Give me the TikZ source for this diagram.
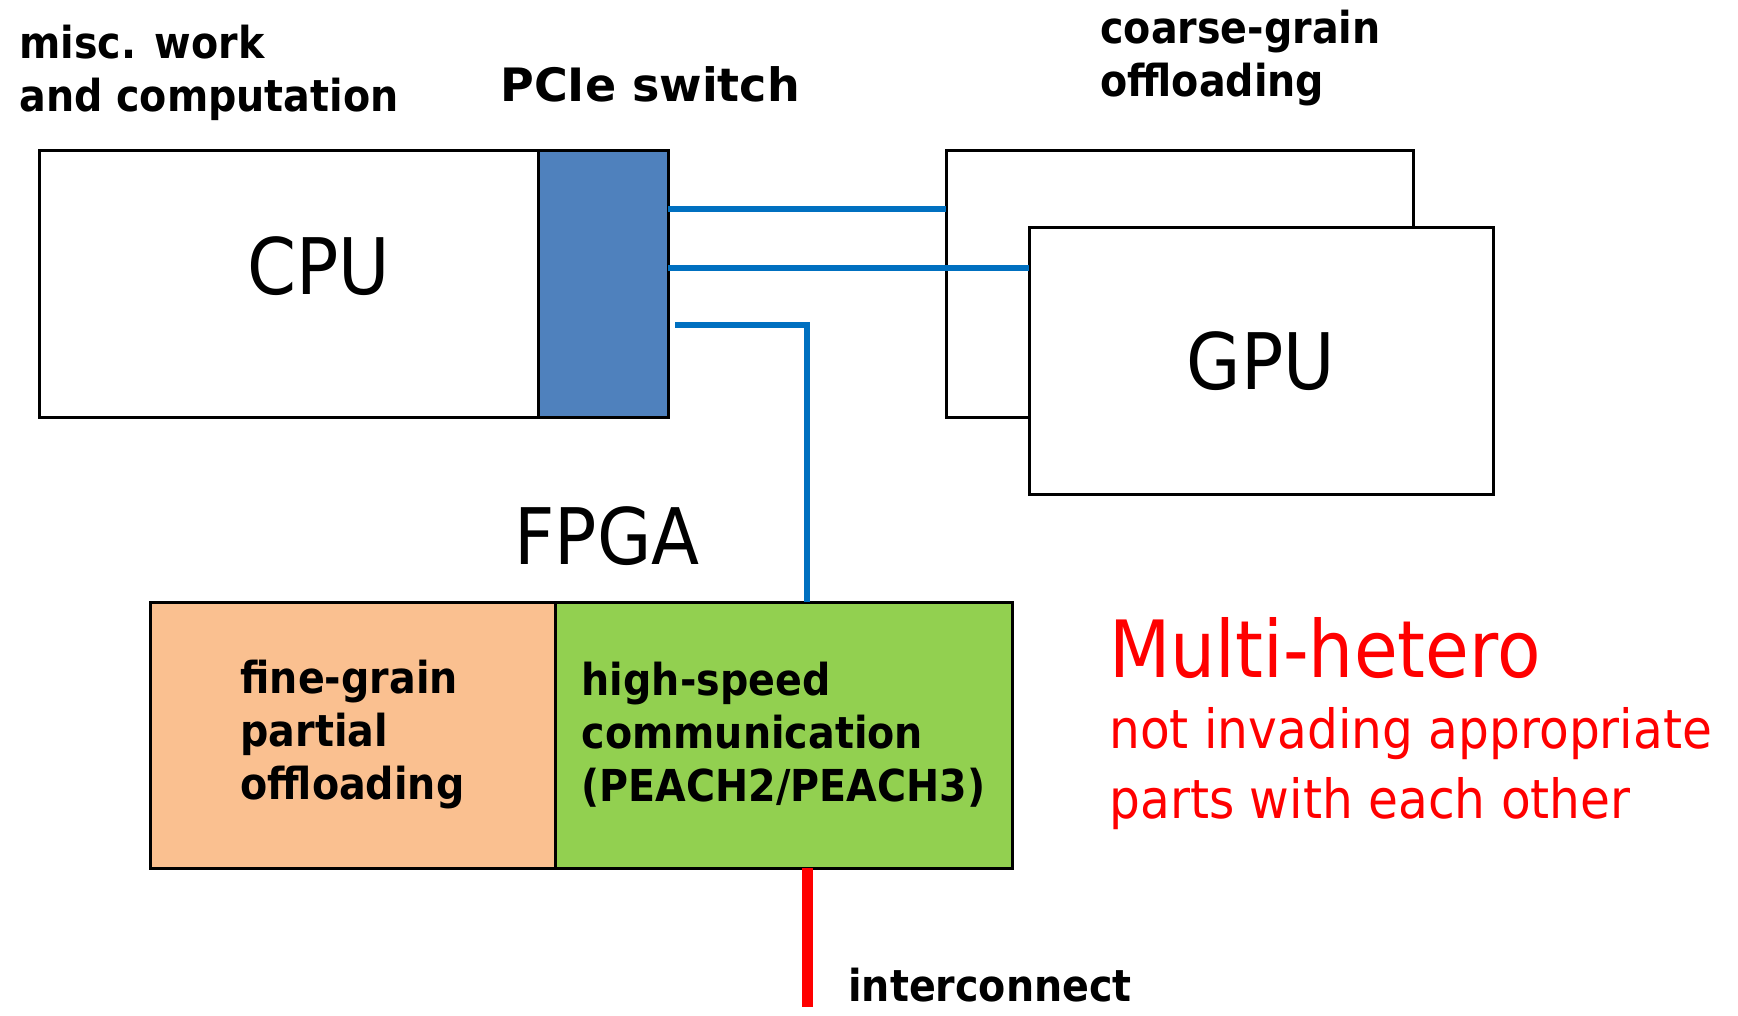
\documentclass[tikz,border=0pt]{standalone}
\usepackage{fontspec}
\setmainfont{DejaVu Sans}[FakeStretch=0.9]
\newfontfamily\widefont{DejaVu Sans}
\usetikzlibrary{positioning}
\definecolor{swblue}{HTML}{4F81BD}
\definecolor{linkblue}{HTML}{0070C0}
\definecolor{fineorange}{HTML}{FAC090}
\definecolor{hsgreen}{HTML}{92D050}
\definecolor{hetred}{HTML}{FF0000}

\begin{document}
\begin{tikzpicture}[x=0.5pt,y=-0.5pt,
  unit/.style={draw,line width=1.5pt,fill=white,minimum height=133pt,inner sep=0pt,outer sep=0pt},
  bus/.style={linkblue,line width=3pt},
  big/.style={font=\fontsize{39}{47}\selectfont,inner sep=0pt},
  lbl/.style={font=\bfseries\fontsize{22}{26.5}\selectfont,align=left,inner sep=0pt}]
\useasboundingbox (0,0) rectangle (1738,1016);

% host: CPU with PCIe switch
\node[unit,anchor=north west,minimum width=249.5pt] (cpu) at (39,151) {};
\node[unit,minimum width=65pt,fill=swblue,right=0pt of cpu] (sw) {};
\node[big] (cputxt) at (319,266) {CPU};

% GPUs
\node[unit,anchor=north west,minimum width=233.5pt] (gpub) at (946,151) {};
\node[unit,anchor=north west,minimum width=232pt,big] (gpuf) at (1029,228) {GPU};

% FPGA
\node[big] (fpgatxt) at (607,536) {FPGA};
\node[unit,anchor=north west,minimum width=202.5pt,fill=fineorange,lbl] (fine) at (150,602)
  {fine-grain\\partial\\offloading};
\node[unit,minimum width=228.5pt,fill=hsgreen,lbl,right=0pt of fine] (hsc)
  {high-speed\\communication\\(PEACH2/PEACH3)};

% labels
\node[lbl,anchor=north west] (misc) at (19,25) {misc. work\\and computation};
\node[anchor=base west,inner sep=0pt,font=\widefont\bfseries\fontsize{23}{27}\selectfont] (pcie) at (500,102) {PCIe switch};
\node[lbl,anchor=north west] (coarse) at (1100,10) {coarse-grain\\offloading};
\node[anchor=base west,inner sep=0pt,font=\bfseries\fontsize{22}{26.5}\selectfont] (icn) at (848,1001) {interconnect};
\node[anchor=base west,inner sep=0pt,text=hetred,font=\fontsize{39.5}{48}\selectfont] (het) at (1109,677) {Multi-hetero};
\node[anchor=north west,inner sep=0pt,text=hetred,align=left,font=\fontsize{27}{35}\selectfont] (hetsub) at (1109,707)
  {not invading appropriate\\parts with each other};

% links
\coordinate (b1) at ([yshift=37.5pt]sw.east);
\coordinate (b2) at ([yshift=8pt]sw.east);
\coordinate (b3) at ([xshift=3.5pt,yshift=-20.5pt]sw.east);
\coordinate (drop) at ([xshift=11.75pt]hsc.north);
\coordinate (ic) at (807,1007);
\draw[bus] (b1) -- (b1 -| gpub.west);
\draw[bus] (b2) -- (b2 -| gpuf.west);
\draw[bus] (b3) -| (drop);
\draw[hetred,line width=5.5pt] (ic |- hsc.south) -- (ic);
\end{tikzpicture}
\end{document}
